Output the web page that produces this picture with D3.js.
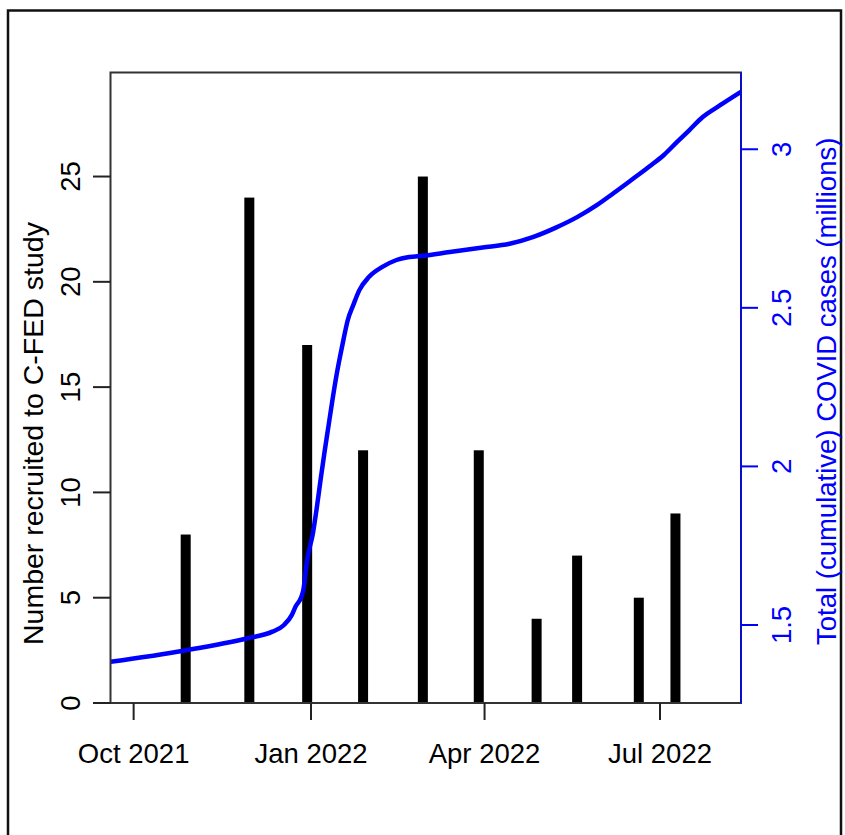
<!DOCTYPE html>
<html>
<head>
<meta charset="utf-8">
<script src="https://cdn.jsdelivr.net/npm/d3@7"></script>
<style>
  html, body { margin: 0; padding: 0; background: #fff; }
  svg { display: block; font-family: "Liberation Sans", Arial, sans-serif; }
</style>
</head>
<body>
<div id="chart"></div>
<script>
// C-FED recruitment per month (bars) against cumulative COVID cases (line).

const recruitDates = ["2021-10-28", "2021-11-30", "2021-12-30", "2022-01-28", "2022-02-28",
                      "2022-03-29", "2022-04-28", "2022-05-19", "2022-06-20", "2022-07-09"];
const recruitCounts = [8, 24, 17, 12, 25, 12, 4, 7, 5, 9];

const caseDates = ["2021-09-19", "2021-10-27", "2021-11-29", "2021-12-12", "2021-12-18",
                   "2021-12-22", "2021-12-24", "2021-12-27", "2021-12-28", "2021-12-30",
                   "2022-01-02", "2022-01-04", "2022-01-06", "2022-01-08", "2022-01-10",
                   "2022-01-12", "2022-01-14", "2022-01-16", "2022-01-18", "2022-01-20",
                   "2022-01-23", "2022-01-26", "2022-01-31", "2022-02-07", "2022-02-14",
                   "2022-02-21", "2022-02-28", "2022-03-14", "2022-03-31", "2022-04-14",
                   "2022-04-26", "2022-05-08", "2022-05-19", "2022-05-29", "2022-06-07",
                   "2022-06-17", "2022-06-26", "2022-07-03", "2022-07-10", "2022-07-16",
                   "2022-07-23", "2022-08-01", "2022-08-12"];
const caseMillions = [1.384, 1.419, 1.458, 1.479, 1.500,
                      1.531, 1.558, 1.589, 1.610, 1.705,
                      1.790, 1.870, 1.960, 2.045, 2.125,
                      2.205, 2.280, 2.345, 2.405, 2.460,
                      2.510, 2.555, 2.597, 2.629, 2.650,
                      2.660, 2.664, 2.676, 2.690, 2.702,
                      2.723, 2.753, 2.786, 2.823, 2.862,
                      2.907, 2.948, 2.982, 3.024, 3.059,
                      3.101, 3.138, 3.181];

const xTicks = ["2021-10-01", "2022-01-01", "2022-04-01", "2022-07-01"];
const xTickLabels = ["Oct 2021", "Jan 2022", "Apr 2022", "Jul 2022"];
const leftTicks = [0, 5, 10, 15, 20, 25];
const rightTicks = [1.5, 2, 2.5, 3];

const parse = d3.timeParse("%Y-%m-%d");
const width = 845, height = 835;
const box = { left: 110.5, right: 741, top: 72.5, bottom: 703 };
const fs = 27.5;
const blue = "#0000ff";

const svg = d3.select("#chart").append("svg")
  .attr("width", width)
  .attr("height", height);

// outer frame (bottom edge runs off the picture)
svg.append("path")
  .attr("d", `M8,${height + 5} V10.5 H841 V${height + 5}`)
  .attr("fill", "none")
  .attr("stroke", "#111")
  .attr("stroke-width", 2.5);

const x = d3.scaleTime()
  .domain([parse("2021-09-19"), parse("2022-08-12")])
  .range([box.left, box.right]);
const yLeft = d3.scaleLinear().domain([0, 29.94]).range([box.bottom, box.top]);
const yRight = d3.scaleLinear().domain([1.254, 3.242]).range([box.bottom, box.top]);

// bars (R type="h" style thick lines)
const bars = recruitDates.map((d, i) => ({ date: parse(d), n: recruitCounts[i] }));
svg.selectAll(".bar")
  .data(bars)
  .join("rect")
  .attr("class", "bar")
  .attr("x", d => x(d.date) - 5)
  .attr("width", 10)
  .attr("y", d => yLeft(d.n))
  .attr("height", d => yLeft(0) - yLeft(d.n))
  .attr("fill", "#000");

// cumulative cases
const cases = caseDates.map((d, i) => ({ date: parse(d), v: caseMillions[i] }));
const line = d3.line()
  .x(d => x(d.date))
  .y(d => yRight(d.v))
  .curve(d3.curveMonotoneX);
svg.append("path")
  .datum(cases)
  .attr("d", line)
  .attr("fill", "none")
  .attr("stroke", blue)
  .attr("stroke-width", 4.5)
  .attr("stroke-linejoin", "round");

// plot box
svg.append("rect")
  .attr("x", box.left)
  .attr("y", box.top)
  .attr("width", box.right - box.left)
  .attr("height", box.bottom - box.top)
  .attr("fill", "none")
  .attr("stroke", "#333")
  .attr("stroke-width", 2);

// left axis
const gl = svg.append("g").attr("font-size", fs);
leftTicks.forEach(t => {
  const yy = yLeft(t);
  gl.append("line")
    .attr("x1", box.left - 17.5).attr("x2", box.left)
    .attr("y1", yy).attr("y2", yy)
    .attr("stroke", "#222").attr("stroke-width", 2);
  gl.append("text")
    .attr("transform", `translate(70,${yy}) rotate(-90)`)
    .attr("text-anchor", "middle")
    .attr("dy", "0.35em")
    .text(t);
});

// bottom axis
const gb = svg.append("g").attr("font-size", fs);
xTicks.forEach((t, i) => {
  const xx = x(parse(t));
  gb.append("line")
    .attr("x1", xx).attr("x2", xx)
    .attr("y1", box.bottom).attr("y2", box.bottom + 17)
    .attr("stroke", "#222").attr("stroke-width", 2);
  gb.append("text")
    .attr("x", xx)
    .attr("y", 763)
    .attr("text-anchor", "middle")
    .text(xTickLabels[i]);
});

// right axis in blue
const gr = svg.append("g").attr("font-size", fs).attr("fill", blue);
gr.append("line")
  .attr("x1", box.right).attr("x2", box.right)
  .attr("y1", box.top).attr("y2", box.bottom)
  .attr("stroke", blue).attr("stroke-width", 1.5);
rightTicks.forEach(t => {
  const yy = yRight(t);
  gr.append("line")
    .attr("x1", box.right).attr("x2", box.right + 17)
    .attr("y1", yy).attr("y2", yy)
    .attr("stroke", blue).attr("stroke-width", 2);
  gr.append("text")
    .attr("transform", `translate(781,${yy}) rotate(-90)`)
    .attr("text-anchor", "middle")
    .attr("dy", "0.35em")
    .text(t);
});

// axis titles
svg.append("text")
  .attr("transform", "translate(33,645) rotate(-90)")
  .attr("dy", "0.35em")
  .attr("font-size", 28.5)
  .text("Number recruited to C-FED study");

svg.append("text")
  .attr("transform", "translate(826,645) rotate(-90)")
  .attr("dy", "0.35em")
  .attr("font-size", fs)
  .attr("fill", blue)
  .text("Total (cumulative) COVID cases (millions)");
</script>
</body>
</html>
